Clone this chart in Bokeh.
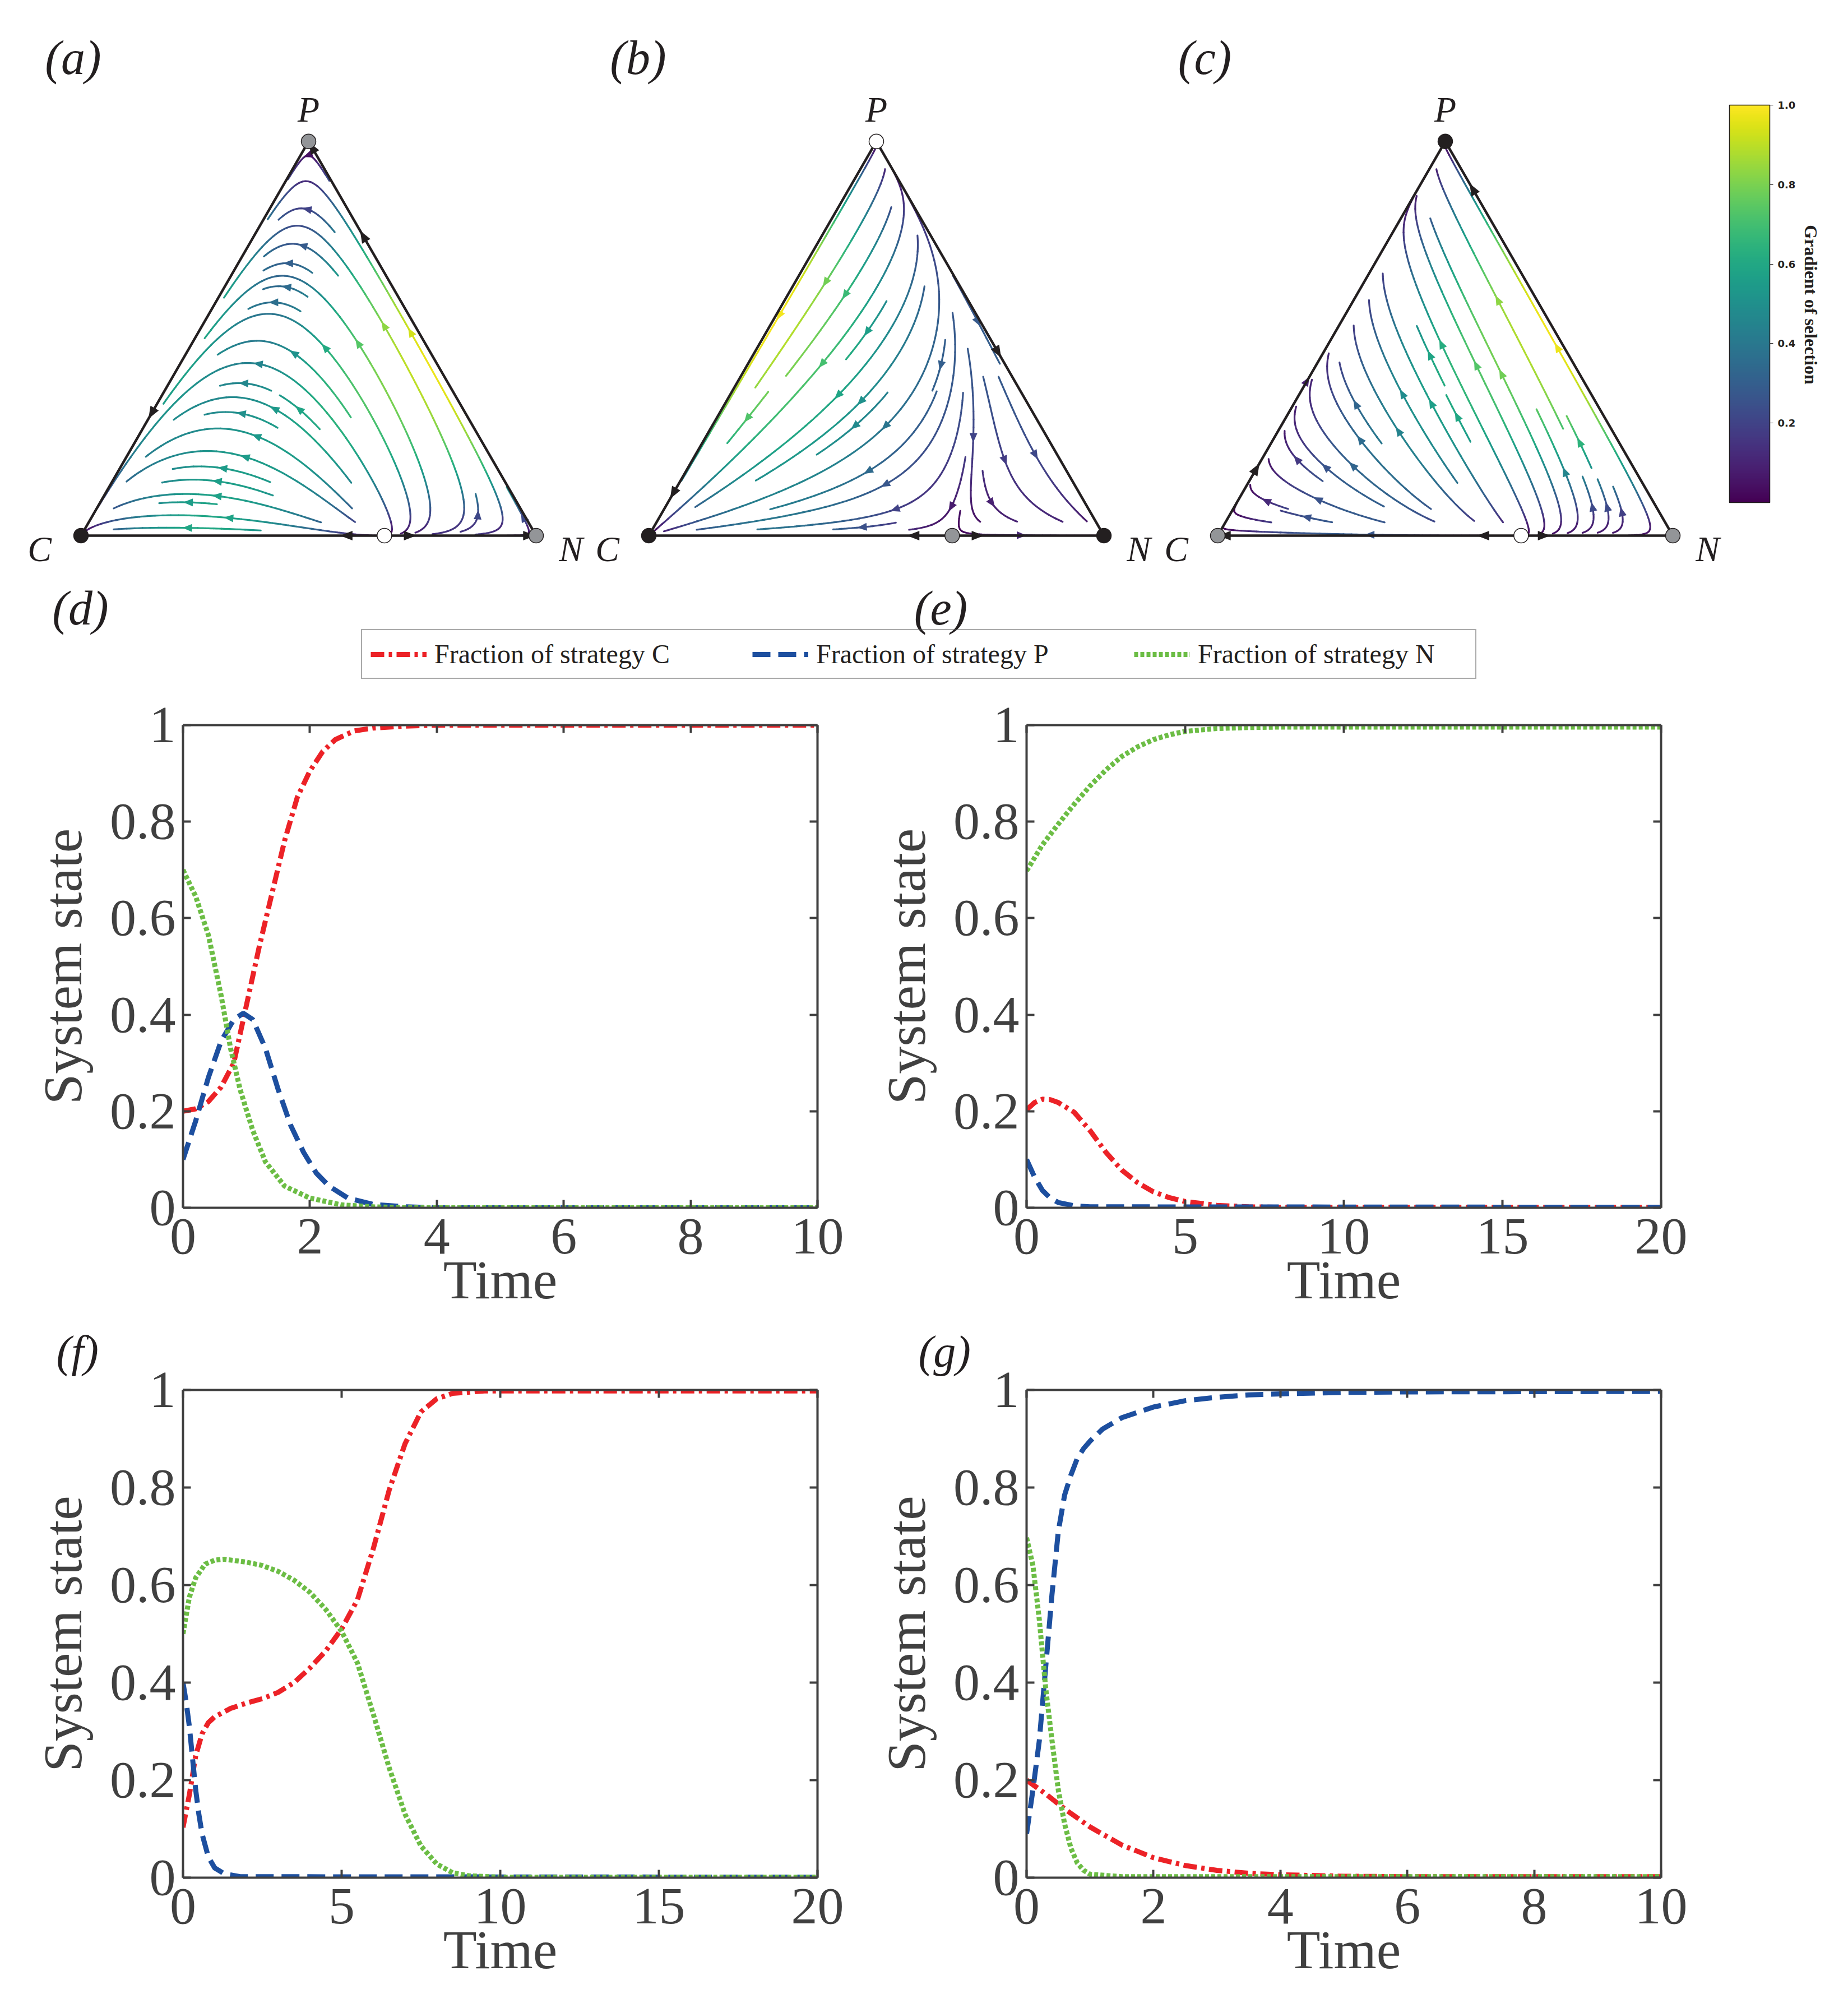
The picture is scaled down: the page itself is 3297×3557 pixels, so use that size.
import math
from bokeh.plotting import figure
from bokeh.models import (Range1d, ColumnDataSource, Label, Legend, LegendItem, ColorBar,
                          LinearColorMapper, FixedTicker, PrintfTickFormatter, LinearAxis, Title)
from bokeh.layouts import column, row
from bokeh.palettes import Viridis256
from bokeh.embed import file_html
from bokeh.resources import INLINE

# ---------------- data ----------------
# replicator payoff matrices (rows / cols: C, P, N) for ternary panels (a), (b), (c)
payoff_a = [[2.0, 2.0, 0.0], [1.0, 1.0, 3.0], [0.0, 0.0, 1.0]]
payoff_b = [[2.0, 3.0, 0.0], [0.0, 0.0, 0.0], [0.0, 0.5, 1.0]]
payoff_c = [[2.0, 3.0, 0.0], [2.2, 3.5, 4.0], [0.0, 0.0, 1.0]]
payoffs = [payoff_a, payoff_b, payoff_c]
# fixed point colours: vertices C, P, N and the point on the C-N edge
fp_colors = [
    ["#231f20", "#939598", "#939598", "#ffffff"],
    ["#231f20", "#ffffff", "#231f20", "#939598"],
    ["#939598", "#231f20", "#939598", "#ffffff"],
]
# black arrows on the simplex edges: (edge, fraction along edge)
edge_arrows = [
    [("CP", 0.31), ("NP", 0.76), ("NP", 0.985), ("CN", 0.583), ("CN", 0.723), ("CN", 0.985)],
    [("CP", 0.107), ("NP", 0.465), ("CN", 0.581), ("CN", 0.723)],
    [("CP", 0.17), ("NP", 0.88), ("CN", 0.583), ("CN", 0.717), ("CN", 0.015)],
]
colorbar_ticks = [0.2, 0.4, 0.6, 0.8, 1.0]

# time series, panel (d)
d_t_C = [0, 0.2, 0.4, 0.6, 0.8, 1.0, 1.2, 1.4, 1.6, 1.8, 2.0, 2.2, 2.4, 2.7, 3.0, 3.5, 4.0, 5.0, 10.0]
d_C = [0.20, 0.205, 0.22, 0.25, 0.30, 0.42, 0.54, 0.65, 0.76, 0.85, 0.905, 0.945, 0.97, 0.988, 0.994, 0.998, 1.0, 1.0, 1.0]
d_t_P = [0, 0.2, 0.4, 0.6, 0.8, 0.95, 1.1, 1.3, 1.5, 1.7, 1.9, 2.1, 2.3, 2.6, 3.0, 3.5, 4.0, 10.0]
d_P = [0.10, 0.18, 0.27, 0.345, 0.39, 0.403, 0.39, 0.33, 0.245, 0.17, 0.115, 0.072, 0.045, 0.02, 0.007, 0.002, 0.0, 0.0]
d_t_N = [0, 0.2, 0.4, 0.6, 0.75, 0.9, 1.1, 1.3, 1.6, 2.0, 2.5, 3.0, 3.5, 10.0]
d_N = [0.70, 0.645, 0.565, 0.44, 0.33, 0.245, 0.16, 0.095, 0.045, 0.02, 0.006, 0.002, 0.0, 0.0]

# panel (e)
e_t_C = [0, 0.25, 0.5, 0.75, 1.0, 1.5, 2.0, 2.5, 3.0, 3.5, 4.0, 4.5, 5.0, 6.0, 7.0, 8.0, 20.0]
e_C = [0.203, 0.218, 0.225, 0.224, 0.218, 0.198, 0.16, 0.115, 0.078, 0.052, 0.033, 0.021, 0.013, 0.005, 0.002, 0.001, 0.001]
e_t_P = [0, 0.25, 0.5, 0.75, 1.0, 1.5, 2.0, 20.0]
e_P = [0.10, 0.064, 0.036, 0.02, 0.011, 0.004, 0.002, 0.001]
e_t_N = [0, 0.5, 1.0, 1.5, 2.0, 2.5, 3.0, 3.5, 4.0, 4.5, 5.0, 6.0, 7.0, 8.0, 20.0]
e_N = [0.698, 0.752, 0.795, 0.836, 0.874, 0.907, 0.935, 0.955, 0.97, 0.98, 0.987, 0.993, 0.995, 0.996, 0.996]

# panel (f)
f_t_C = [0, 0.2, 0.4, 0.6, 0.8, 1.0, 1.5, 2.0, 2.5, 3.0, 3.5, 4.0, 4.5, 5.0, 5.5, 6.0, 6.5, 7.0, 7.5, 8.0, 8.5, 9.5, 20.0]
f_C = [0.103, 0.17, 0.25, 0.295, 0.318, 0.33, 0.347, 0.358, 0.367, 0.38, 0.40, 0.43, 0.465, 0.51, 0.57, 0.675, 0.795, 0.89, 0.955, 0.982, 0.993, 0.998, 0.998]
f_t_P = [0, 0.1, 0.2, 0.3, 0.4, 0.5, 0.6, 0.8, 1.0, 1.3, 1.8, 20.0]
f_P = [0.40, 0.36, 0.31, 0.245, 0.18, 0.13, 0.09, 0.042, 0.02, 0.008, 0.002, 0.001]
f_t_N = [0, 0.2, 0.4, 0.7, 1.0, 1.3, 2.0, 2.5, 3.0, 3.5, 4.0, 4.5, 5.0, 5.5, 6.0, 6.5, 7.0, 7.5, 8.0, 8.5, 9.0, 10.0, 20.0]
f_N = [0.50, 0.575, 0.615, 0.643, 0.651, 0.653, 0.647, 0.64, 0.628, 0.61, 0.585, 0.55, 0.505, 0.44, 0.335, 0.225, 0.13, 0.065, 0.028, 0.01, 0.004, 0.001, 0.001]

# panel (g)
g_t_C = [0, 0.3, 0.6, 1.0, 1.5, 2.0, 2.5, 3.0, 3.5, 4.0, 5.0, 6.0, 10.0]
g_C = [0.20, 0.172, 0.141, 0.104, 0.067, 0.041, 0.025, 0.015, 0.009, 0.006, 0.003, 0.002, 0.002]
g_t_P = [0, 0.1, 0.2, 0.3, 0.4, 0.5, 0.6, 0.7, 0.8, 0.9, 1.0, 1.2, 1.5, 2.0, 2.5, 3.0, 3.5, 4.0, 5.0, 6.0, 10.0]
g_P = [0.09, 0.18, 0.28, 0.43, 0.58, 0.71, 0.785, 0.826, 0.86, 0.88, 0.895, 0.92, 0.943, 0.965, 0.978, 0.985, 0.99, 0.992, 0.995, 0.996, 0.997]
g_t_N = [0, 0.1, 0.2, 0.3, 0.4, 0.5, 0.6, 0.7, 0.8, 0.9, 1.0, 1.5, 10.0]
g_N = [0.697, 0.64, 0.53, 0.39, 0.282, 0.18, 0.11, 0.06, 0.03, 0.015, 0.007, 0.002, 0.002]

y_ticks = [0, 0.2, 0.4, 0.6, 0.8, 1]
x_ticks_10 = [0, 2, 4, 6, 8, 10]
x_ticks_20 = [0, 5, 10, 15, 20]
legend_labels = ["Fraction of strategy C", "Fraction of strategy P", "Fraction of strategy N"]

# ---------------- styles ----------------
RED, BLUE, GREEN = "#ec2227", "#1d4f9f", "#6cbd45"
DASH_C, DASH_P, DASH_N = "24 8 6 8", "32 14", "7 4"
LW = 9
AX = "#404040"
INK = "#231f20"
SERIF = "Liberation Serif"

TRI_LEFT = [144, 1157, 2172]
TRI_BASE = 955
SIDE = 812
S3 = math.sqrt(3) / 2
TOP_H = 1230


def flow_xy(M, x, y):
    p = y / S3
    n = x - 0.5 * p
    c = 1.0 - p - n
    fc = M[0][0] * c + M[0][1] * p + M[0][2] * n
    fp = M[1][0] * c + M[1][1] * p + M[1][2] * n
    fn = M[2][0] * c + M[2][1] * p + M[2][2] * n
    phi = c * fc + p * fp + n * fn
    dp = p * (fp - phi)
    dn = n * (fn - phi)
    return dn + 0.5 * dp, S3 * dp


def inside(x, y, eps=1e-9):
    p = y / S3
    n = x - 0.5 * p
    c = 1.0 - p - n
    return p >= -eps and n >= -eps and c >= -eps


def max_speed(M):
    m = 0.0
    K = 120
    for i in range(K + 1):
        for j in range(K + 1 - i):
            p = i / K
            n = j / K
            u, v = flow_xy(M, n + 0.5 * p, S3 * p)
            m = max(m, math.hypot(u, v))
    return m


def spiral(nx, ny):
    xfirst, yfirst, xlast, ylast = 0, 1, nx - 1, ny - 1
    x, y = 0, 0
    d = "right"
    for _ in range(nx * ny):
        yield x, y
        if d == "right":
            x += 1
            if x >= xlast:
                xlast -= 1
                d = "up"
        elif d == "up":
            y += 1
            if y >= ylast:
                ylast -= 1
                d = "left"
        elif d == "left":
            x -= 1
            if x <= xfirst:
                xfirst += 1
                d = "down"
        else:
            y -= 1
            if y <= yfirst:
                yfirst += 1
                d = "right"


def streamlines(M, dens=30, step=0.2, maxlen=4.0, minlen=0.1):
    nx = ny = dens
    cw = 1.0 / nx
    ch = S3 / ny
    mask = [[False] * nx for _ in range(ny)]
    h = step * min(cw, ch)

    def cell(x, y):
        return (min(max(int(y / ch), 0), ny - 1), min(max(int(x / cw), 0), nx - 1))

    def direction(x, y, sg):
        u, v = flow_xy(M, x, y)
        s = math.hypot(u, v)
        if s < 1e-9:
            return None
        return sg * u / s, sg * v / s

    def integrate(x, y, sg, marks):
        pts = [(x, y)]
        cur = cell(x, y)
        L = 0.0
        while L < maxlen:
            d1 = direction(x, y, sg)
            if d1 is None:
                break
            xm, ym = x + 0.5 * h * d1[0], y + 0.5 * h * d1[1]
            if not inside(xm, ym):
                break
            d2 = direction(xm, ym, sg)
            if d2 is None:
                break
            xn, yn = x + h * d2[0], y + h * d2[1]
            if not inside(xn, yn):
                break
            cc = cell(xn, yn)
            if cc != cur:
                if mask[cc[0]][cc[1]]:
                    break
                mask[cc[0]][cc[1]] = True
                marks.append(cc)
                cur = cc
            x, y = xn, yn
            pts.append((x, y))
            L += h
        return pts, L

    trajs = []
    for (j, i) in spiral(nx, ny):
        if mask[i][j]:
            continue
        x0 = (j + 0.5) * cw
        y0 = (i + 0.5) * ch
        if not inside(x0, y0, eps=-0.002):
            continue
        marks = [(i, j)]
        mask[i][j] = True
        b, lb = integrate(x0, y0, -1, marks)
        f, lf = integrate(x0, y0, 1, marks)
        if lb + lf < minlen:
            for (a, bb) in marks:
                mask[a][bb] = False
            continue
        trajs.append(b[::-1] + f[1:])
    return trajs


def page(k, x, y):
    return TRI_LEFT[k] + x * SIDE, TRI_BASE - y * SIDE


def arrow_patch(xm, ym, dx, dy, length, half):
    L = math.hypot(dx, dy)
    dx, dy = dx / L, dy / L
    tx, ty = xm + dx * length * 0.5, ym + dy * length * 0.5
    bx, by = xm - dx * length * 0.5, ym - dy * length * 0.5
    px, py = -dy, dx
    return [tx, bx + px * half, bx - px * half], [ty, by + py * half, by - py * half]


# ---------------- top figure: ternary plots ----------------
top = figure(width=3297, height=TOP_H, x_range=Range1d(0, 3297), y_range=Range1d(TOP_H, 0),
             x_axis_type=None, y_axis_type=None, output_backend="svg",
             toolbar_location=None, min_border=0)
top.outline_line_color = None
cmap = LinearColorMapper(palette=Viridis256, low=0.0, high=1.0)

for k, M in enumerate(payoffs):
    vmax = max_speed(M)
    trajs = streamlines(M)
    seg_x, seg_y, seg_s = [], [], []
    ar_x, ar_y, ar_s = [], [], []
    for tr in trajs:
        pg = [page(k, x, y) for (x, y) in tr]
        sp = [math.hypot(*flow_xy(M, x, y)) / vmax for (x, y) in tr]
        chunk = 3
        for a in range(0, len(pg) - 1, chunk):
            seg = pg[a:a + chunk + 1]
            if len(seg) < 2:
                continue
            seg_x.append([q[0] for q in seg])
            seg_y.append([q[1] for q in seg])
            part = sp[a:a + chunk + 1]
            seg_s.append(sum(part) / len(part))
        if len(pg) >= 3:
            cum = [0.0]
            for a in range(1, len(pg)):
                cum.append(cum[-1] + math.hypot(pg[a][0] - pg[a - 1][0], pg[a][1] - pg[a - 1][1]))
            m = 0
            while m < len(cum) - 2 and cum[m] < cum[-1] / 2:
                m += 1
            dx = pg[m + 1][0] - pg[m][0]
            dy = pg[m + 1][1] - pg[m][1]
            if math.hypot(dx, dy) > 0:
                xs_, ys_ = arrow_patch(pg[m][0], pg[m][1], dx, dy, 17, 7)
                ar_x.append(xs_)
                ar_y.append(ys_)
                ar_s.append(sp[m])
    top.multi_line(xs="xs", ys="ys", source=ColumnDataSource(dict(xs=seg_x, ys=seg_y, s=seg_s)),
                   line_color={"field": "s", "transform": cmap}, line_width=3.2, line_cap="round")
    top.patches(xs="xs", ys="ys", source=ColumnDataSource(dict(xs=ar_x, ys=ar_y, s=ar_s)),
                fill_color={"field": "s", "transform": cmap}, line_color=None)

    vC = page(k, 0.0, 0.0)
    vN = page(k, 1.0, 0.0)
    vP = page(k, 0.5, S3)
    top.line([vC[0], vN[0], vP[0], vC[0]], [vC[1], vN[1], vP[1], vC[1]],
             line_color=INK, line_width=4.5, line_join="miter")

    ex, ey = [], []
    for (edge, fr) in edge_arrows[k]:
        if edge == "CP":
            x, y = 0.5 * fr, S3 * fr
        elif edge == "NP":
            x, y = (1 - fr) + 0.5 * fr, S3 * fr
        else:
            x, y = fr, 0.0
        u, v = flow_xy(M, x, y)
        X, Y = page(k, x, y)
        xs_, ys_ = arrow_patch(X, Y, u, -v, 22, 8.5)
        ex.append(xs_)
        ey.append(ys_)
    top.patches(ex, ey, fill_color=INK, line_color=None)

    nstar = (M[0][0] - M[2][0]) / ((M[0][0] - M[2][0]) + (M[2][2] - M[0][2]))
    vE = page(k, nstar, 0.0)
    top.scatter([vC[0], vP[0], vN[0], vE[0]], [vC[1], vP[1], vN[1], vE[1]], size=26,
                fill_color=fp_colors[k], line_color=INK, line_width=1.5)

    for (txt, pos, off) in [("P", vP, (0, -57)), ("C", vC, (-74, 24)), ("N", vN, (62, 24))]:
        top.add_layout(Label(x=pos[0] + off[0], y=pos[1] + off[1], text=txt,
                             text_font=SERIF, text_font_style="italic", text_font_size="64px",
                             text_align="center", text_baseline="middle", text_color=INK))

for (txt, x, y) in [("(a)", 130, 102), ("(b)", 1138, 102), ("(c)", 2149, 102),
                    ("(d)", 143, 1084), ("(e)", 1678, 1084)]:
    top.add_layout(Label(x=x, y=y, text=txt, text_font=SERIF, text_font_style="italic",
                         text_font_size="86px", text_align="center", text_baseline="middle",
                         text_color=INK))

cb = ColorBar(color_mapper=cmap, location=(3085, TOP_H - 896), orientation="vertical",
              width=72, height=709, padding=0, margin=0,
              ticker=FixedTicker(ticks=colorbar_ticks), formatter=PrintfTickFormatter(format="%.1f"),
              major_label_text_font="DejaVu Sans", major_label_text_font_style="bold",
              major_label_text_font_size="18px", major_label_text_color=INK,
              major_tick_in=0, major_tick_out=6, major_tick_line_color=INK,
              minor_tick_line_color=None, bar_line_color=INK, bar_line_width=1.5,
              label_standoff=8, background_fill_alpha=0, border_line_color=None)
top.add_layout(cb)
top.add_layout(Label(x=3230, y=543, text="Gradient of selection", angle=-math.pi / 2,
                     text_font=SERIF, text_font_style="bold", text_font_size="32px",
                     text_align="center", text_baseline="middle", text_color=INK))

# legend (sample renderers sit outside the visible range)
r1 = top.line(x=[-60, -40], y=[-60, -60], line_color=RED, line_width=LW, line_dash=DASH_C)
r2 = top.line(x=[-60, -40], y=[-60, -60], line_color=BLUE, line_width=LW, line_dash=DASH_P)
r3 = top.line(x=[-60, -40], y=[-60, -60], line_color=GREEN, line_width=LW, line_dash=DASH_N)
leg = Legend(items=[LegendItem(label=legend_labels[0], renderers=[r1]),
                    LegendItem(label=legend_labels[1], renderers=[r2]),
                    LegendItem(label=legend_labels[2], renderers=[r3])],
             orientation="horizontal", location=(644, TOP_H - 1211), glyph_width=100, glyph_height=20,
             label_width=480, spacing=87, padding=15, margin=0, label_standoff=14,
             label_text_font=SERIF, label_text_font_size="48px", label_text_color=INK,
             border_line_color="#555555", border_line_width=2, background_fill_alpha=0)
top.add_layout(leg)


# ---------------- time series ----------------
def style_axis(ax, show_labels):
    ax.axis_line_color = AX
    ax.axis_line_width = 4
    ax.major_tick_line_color = AX
    ax.major_tick_line_width = 4
    ax.major_tick_in = 14
    ax.major_tick_out = 0
    ax.minor_tick_line_color = None
    if show_labels:
        ax.major_label_text_font = SERIF
        ax.major_label_text_font_size = "94px"
        ax.major_label_text_color = AX
        ax.axis_label_text_font = SERIF
        ax.axis_label_text_font_size = "98px"
        ax.axis_label_text_font_style = "normal"
        ax.axis_label_text_color = AX
    else:
        ax.major_label_text_font_size = "1px"
        ax.formatter = PrintfTickFormatter(format="")


def ts_fig(series, xmax, xticks, width, height, bl, br, bt, bb, label, loff):
    f = figure(width=width, height=height, x_range=Range1d(0, xmax), y_range=Range1d(0, 1),
               output_backend="svg", toolbar_location=None,
               min_border_left=bl, min_border_right=br, min_border_top=bt, min_border_bottom=bb)
    f.grid.visible = False
    f.outline_line_color = None
    (tc, yc), (tp, yp), (tn, yn) = series
    f.line(tc, yc, line_color=RED, line_width=LW, line_dash=DASH_C)
    f.line(tp, yp, line_color=BLUE, line_width=LW, line_dash=DASH_P)
    f.line(tn, yn, line_color=GREEN, line_width=LW, line_dash=DASH_N)
    f.xaxis.ticker = FixedTicker(ticks=xticks)
    f.yaxis.ticker = FixedTicker(ticks=y_ticks)
    f.yaxis.formatter = PrintfTickFormatter(format="%g")
    f.xaxis.formatter = PrintfTickFormatter(format="%g")
    f.xaxis.axis_label = "Time"
    f.yaxis.axis_label = "System state"
    style_axis(f.xaxis[0], True)
    style_axis(f.yaxis[0], True)
    f.yaxis.major_label_standoff = 13
    f.yaxis.axis_label_standoff = 27
    f.xaxis.major_label_standoff = 20
    f.xaxis.axis_label_standoff = -10
    ra = LinearAxis(ticker=FixedTicker(ticks=y_ticks))
    style_axis(ra, False)
    f.add_layout(ra, "right")
    ta = LinearAxis(ticker=FixedTicker(ticks=xticks))
    style_axis(ta, False)
    f.add_layout(ta, "above")
    if label is not None:
        f.add_layout(Title(text=label, text_font=SERIF, text_font_style="italic",
                           text_font_size="80px", text_color=INK, align="left",
                           offset=loff, standoff=50), "above")
    return f


pd_ = ts_fig([(d_t_C, d_C), (d_t_P, d_P), (d_t_N, d_N)], 10, x_ticks_10, 1513, 1109, 326, 55, 63, 166,
             None, 0)
pe_ = ts_fig([(e_t_C, e_C), (e_t_P, e_P), (e_t_N, e_N)], 20, x_ticks_20, 1784, 1109, 318, 334, 63, 166,
             None, 0)
pf_ = ts_fig([(f_t_C, f_C), (f_t_P, f_P), (f_t_N, f_N)], 20, x_ticks_20, 1513, 1218, 326, 55, 130, 208,
             "(f)", 100 - 326)
pg_ = ts_fig([(g_t_C, g_C), (g_t_P, g_P), (g_t_N, g_N)], 10, x_ticks_10, 1784, 1218, 318, 334, 130, 208,
             "(g)", 1638 - 1831)

layout = column(top, row(pd_, pe_), row(pf_, pg_))
open("out.html", "w").write(file_html(layout, INLINE))
